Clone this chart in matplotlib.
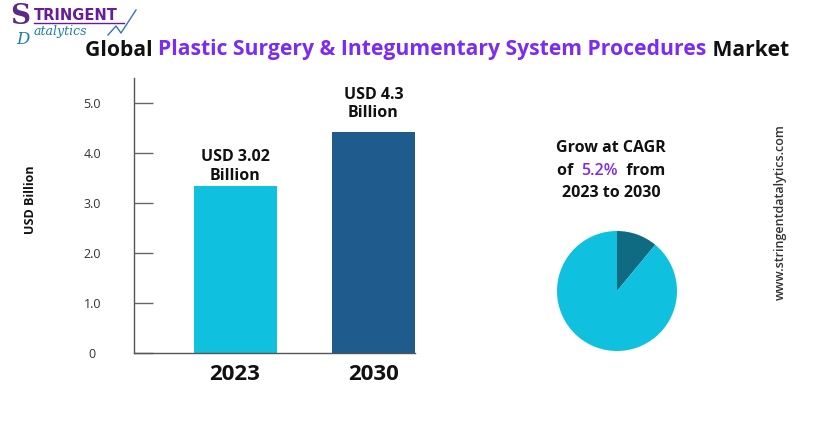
import matplotlib
matplotlib.use("Agg")
import matplotlib.pyplot as plt

plt.rcParams['font.family'] = ['Open Sans', 'DejaVu Sans']

# data
years = ['2023', '2030']
bar_heights = [3.35, 4.42]
bar_labels = ['USD 3.02\nBillion', 'USD 4.3\nBillion']
bar_colors = ['#0fc0df', '#1f5b8c']
y_ticks = [0, 1, 2, 3, 4, 5]
y_tick_labels = ['0', '1.0', '2.0', '3.0', '4.0', '5.0']
pie_values = [11, 89]
pie_colors = ['#0e6b82', '#0fc0df']
cagr = '5.2%'

PURPLE = '#7b2cf0'

fig = plt.figure(figsize=(8.16, 4.26), dpi=100)

# ---- bar chart
ax = fig.add_axes([134 / 816, 73 / 426, 281 / 816, 275 / 426])
x = range(len(years))
ax.bar(x, bar_heights, width=0.6, color=bar_colors)
ax.set_xlim(-0.73, 1.30)
ax.set_ylim(0, 5.5)
ax.set_yticks(y_ticks)
ax.set_yticklabels(y_tick_labels, fontsize=9, color='#333333')
ax.set_xticks(list(x))
ax.set_xticklabels(years, fontsize=16, fontweight='bold', color='#111111')
ax.tick_params(axis='y', direction='in', length=14, width=1, color='#666666', pad=30)
ax.tick_params(axis='x', length=0, pad=8)
for lab in ax.get_yticklabels():
    lab.set_horizontalalignment('center')
for s in ['top', 'right']:
    ax.spines[s].set_visible(False)
for s in ['left', 'bottom']:
    ax.spines[s].set_color('#555555')
    ax.spines[s].set_linewidth(1)

offsets = [0.04, 0.22]
for i, (h, lab) in enumerate(zip(bar_heights, bar_labels)):
    ax.text(i, h + offsets[i], lab, ha='center', va='bottom', fontsize=11.5,
            fontweight='bold', color='#111111', linespacing=1.2)

fig.text(30 / 816, 1 - 200 / 426, 'USD Billion', rotation=90, ha='center', va='center',
         fontsize=9, fontweight='bold', color='#111111')

# ---- pie
pax = fig.add_axes([(617 - 60) / 816, (426 - 291 - 60) / 426, 120 / 816, 120 / 426])
pax.pie(pie_values, colors=pie_colors, startangle=90, counterclock=False,
        radius=1, wedgeprops=dict(linewidth=0))
pax.set_xlim(-1, 1)
pax.set_ylim(-1, 1)
pax.set_aspect('equal')

# CAGR text
fig.text(611 / 816, 1 - 148 / 426, 'Grow at CAGR', ha='center', va='center',
         fontsize=11.5, fontweight='bold', color='#111111')
fig.text(611 / 816, 1 - 193 / 426, '2023 to 2030', ha='center', va='center',
         fontsize=11.5, fontweight='bold', color='#111111')
fig.canvas.draw()
r = fig.canvas.get_renderer()
parts = [('of  ', '#111111', 'bold'), (cagr, PURPLE, 'semibold'), ('  from', '#111111', 'bold')]
ws = []
tmp = []
for s, c, w in parts:
    t = fig.text(0, 0, s, fontsize=11.5, fontweight=w, color=c)
    ws.append(t.get_window_extent(r).width)
    tmp.append(t)
xpos = 611 - sum(ws) / 2
for t, w in zip(tmp, ws):
    t.set_position((xpos / 816, 1 - 171 / 426))
    t.set_va('center')
    xpos += w

# title, three colours
tparts = [('Global ', '#111111'),
          ('Plastic Surgery & Integumentary System Procedures', PURPLE),
          (' Market', '#111111')]
tt = []
tw = []
for s, c in tparts:
    t = fig.text(0, 0, s, fontsize=15.2, fontweight='bold', color=c)
    tw.append(t.get_window_extent(r).width)
    tt.append(t)
xpos = 437 - sum(tw) / 2
for t, w in zip(tt, tw):
    t.set_position((xpos / 816, 1 - 50 / 426))
    t.set_va('center')
    xpos += w

# watermark
fig.text(780 / 816, 1 - 212 / 426, 'www.stringentdatalytics.com', rotation=90,
         ha='center', va='center', fontsize=9, fontweight='semibold', color='#333333')

# logo
fig.text(10 / 816, 1 - 16 / 426, 'S', fontsize=20, fontweight='bold', color='#5b2a86',
         ha='left', va='center', family='DejaVu Serif')
fig.text(34 / 816, 1 - 15 / 426, 'TRINGENT', fontsize=10.5, fontweight='bold', color='#6a1b9a',
         ha='left', va='center', family='DejaVu Sans')
fig.add_artist(plt.Line2D([34 / 816, 124 / 816], [1 - 23 / 426, 1 - 23 / 426],
                          color='#6a1b9a', lw=1))
fig.text(16 / 816, 1 - 39 / 426, 'D', fontsize=12, fontstyle='italic', color='#1e7fa0',
         ha='left', va='center', family='DejaVu Serif')
fig.text(34 / 816, 1 - 31 / 426, 'atalytics', fontsize=9, fontstyle='italic', color='#1e7fa0',
         ha='left', va='center', family='DejaVu Serif')
fig.add_artist(plt.Line2D([108 / 816, 116 / 816, 121 / 816, 136 / 816],
                          [1 - 35 / 426, 1 - 26 / 426, 1 - 33 / 426, 1 - 10 / 426],
                          color='#3b6fc0', lw=1))

fig.savefig('out.png', dpi=100)
